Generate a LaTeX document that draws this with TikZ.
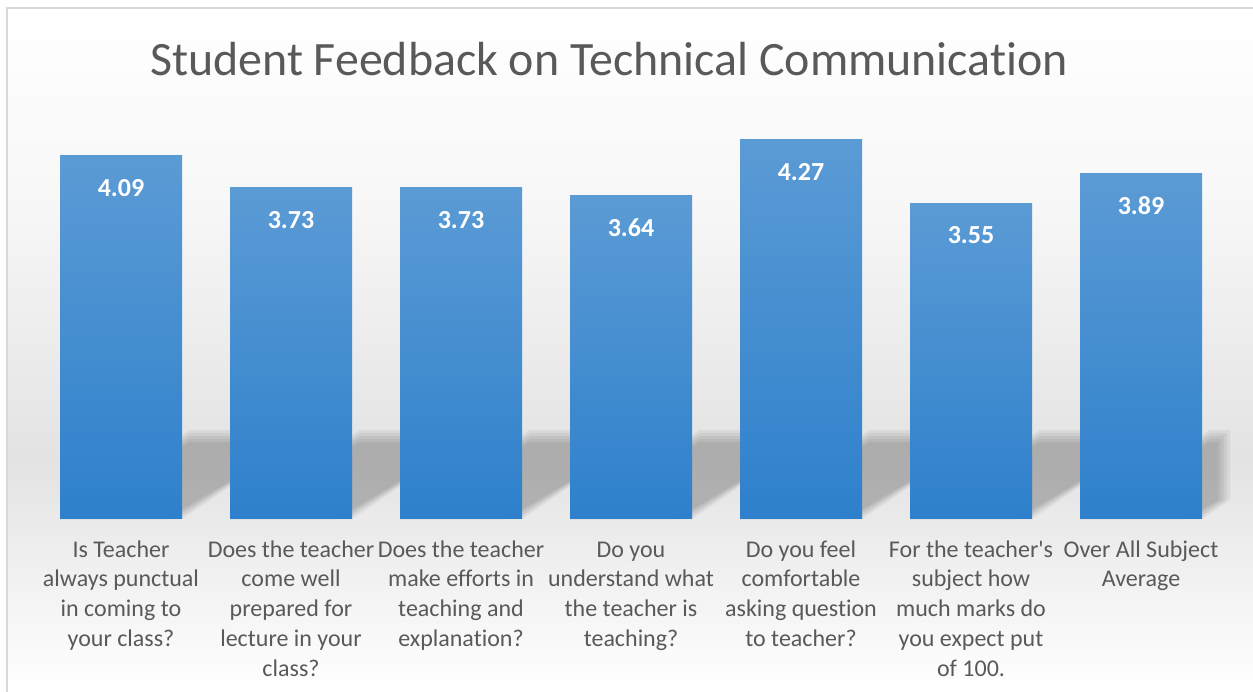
\documentclass[tikz,border=0pt]{standalone}
\usepackage{fontspec}
\setmainfont{Carlito}[Ligatures=NoCommon]
\definecolor{barTop}{RGB}{91,155,213}
\definecolor{barBot}{RGB}{46,128,204}
\definecolor{txtGray}{RGB}{89,89,89}
\definecolor{frameGray}{RGB}{217,217,217}

\begin{document}
\begin{tikzpicture}[x=1pt,y=-1pt,
  bar/.style={draw=none, top color=barTop, bottom color=barBot, minimum width=122pt, inner sep=0pt, anchor=south},
  val/.style={text=white, font=\fontsize{26}{30}\selectfont\bfseries},
  lab/.style={text=txtGray, align=center, inner sep=0pt, anchor=north, font=\fontsize{24}{29.8}\selectfont}]
\useasboundingbox (0,0) rectangle (1253,691);
\fill[white] (0,0) rectangle (1253,691);
\shade[top color=white, bottom color=gray!6] (7,8) rectangle (1253,201);
\shade[top color=gray!6, bottom color=gray!22] (7,200) rectangle (1253,461);
\shade[top color=gray!22, bottom color=white] (7,460) rectangle (1253,691);
\draw[frameGray, line width=2pt] (1260,8) -- (7,8) -- (7,700);
\node[text=txtGray, font=\fontsize{47.9}{58}\selectfont, anchor=base] (title) at (609,75) {Student Feedback on Technical Communication};
\foreach \k in {0,...,4} {
  \begin{scope}
  \clip (0,380) rectangle (1230-\k*3,519);
  \foreach \i in {0,...,6} {
    \pgfmathsetmacro{\xl}{60+170*\i}
    \pgfmathsetmacro{\xr}{\xl+122}
    \fill[black, opacity=0.05] (\xl,519) -- (\xr-\k*4,519) -- (\xr+130-\k*4,430+\k*3) -- (\xl+130,430+\k*3) -- cycle;
  }
  \end{scope}
}
\foreach \i/\v/\txt in {0/4.09/{Is Teacher\\always punctual\\in coming to\\your class?},
  1/3.73/{Does the teacher\\come well\\prepared for\\lecture in your\\class?},
  2/3.73/{Does the teacher\\make efforts in\\teaching and\\explanation?},
  3/3.64/{Do you\\understand what\\the teacher is\\teaching?},
  4/4.27/{Do you feel\\comfortable\\asking question\\to teacher?},
  5/3.55/{For the teacher\textquotesingle s\\subject how\\much marks do\\you expect put\\of 100.},
  6/3.89/{Over All Subject\\Average}} {
  \pgfmathsetmacro{\xc}{121+170*\i}
  \pgfmathsetmacro{\h}{88.75*\v}
  \node[bar, minimum height=\h pt] (bar_\i) at (\xc,519) {};
  \node[val] (val_\i) at ([yshift=-32pt]bar_\i.north) {\v};
  \node[lab] (lab_\i) at (\xc,536) {\strut\txt};
}
\end{tikzpicture}
\end{document}
